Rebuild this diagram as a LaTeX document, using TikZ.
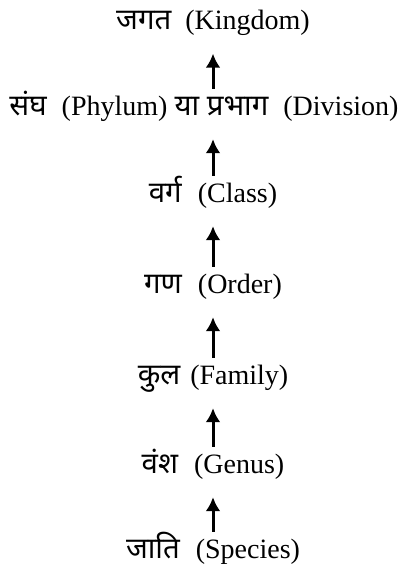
\documentclass[tikz,border=0pt]{standalone}
\usepackage{fontspec}
\setmainfont{Liberation Serif}
\newfontfamily\hindi[Script=Devanagari,Scale=1.05]{Noto Sans}
\usetikzlibrary{arrows.meta}
\tikzset{
  rank/.style={inner sep=0pt, text height=20pt, text depth=8pt, font=\fontsize{28}{33}\selectfont},
  up/.style={->, line width=3pt, shorten <=6pt, shorten >=16pt}
}
\begin{document}
\begin{tikzpicture}[>={Latex[length=14pt,width=15pt]}, x=1pt, y=-1pt]
\useasboundingbox (0,0) rectangle (419,571);
% ranks, top to bottom
\node[rank] (kingdom) at (213,23.5) {{\hindi जगत}\hspace{14pt}(Kingdom)};
\node[rank] (phylum) at (204,109) {{\hindi संघ}\hspace{15pt}(Phylum) {\hindi या प्रभाग}\hspace{15pt}(Division)};
\node[rank] (class) at (213,196) {{\hindi वर्ग}\hspace{16pt}(Class)};
\node[rank] (order) at (213,287) {{\hindi गण}\hspace{16pt}(Order)};
\node[rank] (family) at (213,378) {{\hindi कुल}\hspace{10pt}(Family)};
\node[rank] (genus) at (213,467) {{\hindi वंश}\hspace{16pt}(Genus)};
\node[rank] (species) at (213,552) {{\hindi जाति}\hspace{16pt}(Species)};
% arrows
\draw[up] (phylum.north -| kingdom) -- (kingdom.south);
\draw[up] (class.north) -- (phylum.south -| class);
\draw[up] (order.north) -- (class.south);
\draw[up] (family.north) -- (order.south);
\draw[up] (genus.north) -- (family.south);
\draw[up] (species.north) -- (genus.south);
\end{tikzpicture}
\end{document}
